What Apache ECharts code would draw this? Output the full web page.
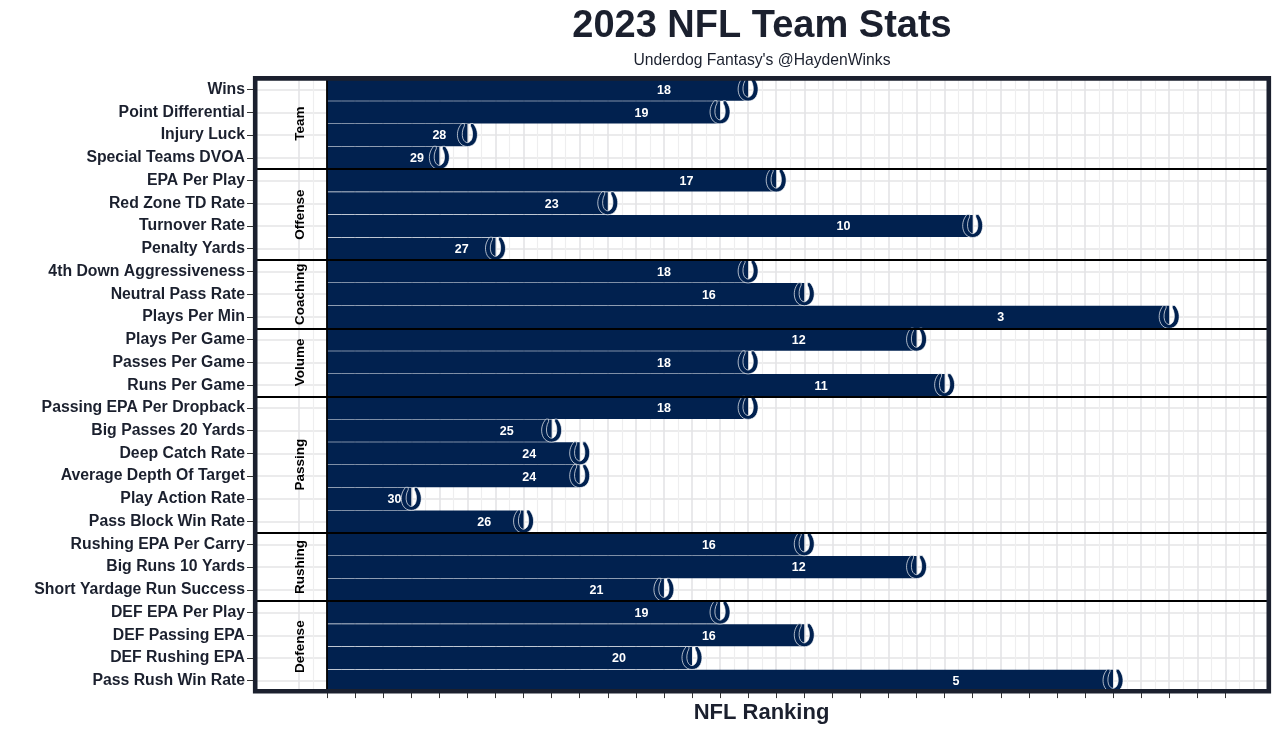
<!DOCTYPE html>
<html><head><meta charset="utf-8">
<style>html,body{margin:0;padding:0;background:#fff}#c{width:1280px;height:732px}</style>
<script src="https://cdn.jsdelivr.net/npm/echarts@6/dist/echarts.min.js"></script>
</head><body><div id="c"></div>
<script>
const categories = ["Wins","Point Differential","Injury Luck","Special Teams DVOA","EPA Per Play","Red Zone TD Rate","Turnover Rate","Penalty Yards","4th Down Aggressiveness","Neutral Pass Rate","Plays Per Min","Plays Per Game","Passes Per Game","Runs Per Game","Passing EPA Per Dropback","Big Passes 20 Yards","Deep Catch Rate","Average Depth Of Target","Play Action Rate","Pass Block Win Rate","Rushing EPA Per Carry","Big Runs 10 Yards","Short Yardage Run Success","DEF EPA Per Play","DEF Passing EPA","DEF Rushing EPA","Pass Rush Win Rate"];
const ranks = [18,19,28,29,17,23,10,27,18,16,3,12,18,11,18,25,24,24,30,26,16,12,21,19,16,20,5];
const groups = ["Team","Offense","Coaching","Volume","Passing","Rushing","Defense"];
const groupSizes = [4,4,3,3,6,3,4];

const NAVY = '#01214f', DARK = '#1b202e';
const SHOE = 'path://M24 3 L36 3 L36 13 C26 28 24 50 29 64 C33 76 43 82 50 82 C57 82 67 76 71 64 C76 50 74 28 64 13 L64 3 L76 3 L82 10 C98 30 100 58 88 78 C80 92 64 98 50 98 C36 98 20 92 12 78 C0 58 2 30 18 10 Z';
const barLen = ranks.map(r => 33 - r);
const tickVals = []; for (let i = 0; i <= 32; i++) tickVals.push(i);

let acc = 0; const dividers = [], groupMid = [];
groupSizes.forEach((n, i) => {
  groupMid.push([-0.96, acc + n / 2, groups[i]]);
  acc += n;
  if (i < groupSizes.length - 1) dividers.push(acc);
});

const FONT = '"Liberation Sans", Arial, sans-serif';
const MAX = 33.52, PANELMIN = -2.565;
const chart = echarts.init(document.getElementById('c'), null, {renderer: 'canvas'});
chart.setOption({
  animation: false,
  backgroundColor: '#fff',
  textStyle: {fontFamily: FONT},
  title: [
    {text: '2023 NFL Team Stats', left: 757, top: 3, textAlign: 'center',
     textStyle: {fontFamily: FONT, fontWeight: 'bold', fontSize: 38, color: DARK}},
    {text: "Underdog Fantasy's @HaydenWinks", left: 757, top: 48, textAlign: 'center',
     textStyle: {fontFamily: FONT, fontWeight: 'normal', fontSize: 15.7, color: DARK}}
  ],
  grid: [
    {left: 299, width: 969, top: 78.2, height: 613.9, outerBoundsMode: 'none'},
    {left: 255, width: 1013, top: 78.2, height: 613.9, outerBoundsMode: 'none'}
  ],
  xAxis: [
    {gridIndex: 0, type: 'value', min: -1, max: MAX, interval: 1,
     axisLine: {show: false, onZero: false}, axisTick: {show: false}, axisLabel: {show: false},
     splitLine: {show: true, lineStyle: {color: '#e4e4e6', width: 1.6}},
     minorTick: {show: false, splitNumber: 2},
     minorSplitLine: {show: true, lineStyle: {color: '#eeeeef', width: 1.2}}},
    {gridIndex: 1, type: 'value', min: PANELMIN, max: MAX,
     axisLine: {show: false, onZero: false}, axisTick: {show: false}, axisLabel: {show: false}, splitLine: {show: false},
     name: 'NFL Ranking', nameLocation: 'middle', nameGap: 10,
     nameTextStyle: {fontFamily: FONT, fontWeight: 'bold', fontSize: 22, color: DARK}},
    {gridIndex: 0, type: 'value', min: -1, max: MAX, position: 'bottom',
     axisLine: {show: false, onZero: false}, axisLabel: {show: false}, splitLine: {show: false},
     axisTick: {show: true, customValues: tickVals, length: 6, lineStyle: {color: '#333', width: 1}}}
  ],
  yAxis: [
    {gridIndex: 0, type: 'category', data: categories, inverse: true,
     axisLine: {show: false, onZero: false}, axisTick: {show: false}, axisLabel: {show: false}, splitLine: {show: false}},
    {gridIndex: 1, type: 'category', data: categories, inverse: true,
     axisLine: {show: false, onZero: false},
     axisTick: {show: true, alignWithLabel: true, length: 8, lineStyle: {color: '#333', width: 1}},
     axisLabel: {show: true, margin: 10, padding: [4, 0, 0, 0], fontFamily: FONT, fontWeight: 'bold', fontSize: 15.8, color: DARK, interval: 0},
     splitLine: {show: true, alignWithLabel: true, interval: 0, lineStyle: {color: '#e4e4e6', width: 1.6}}},
    {gridIndex: 1, type: 'value', min: 0, max: 27, inverse: true, position: 'right',
     axisLine: {show: false, onZero: false}, axisTick: {show: false}, axisLabel: {show: false}, splitLine: {show: false}}
  ],
  series: [
    {type: 'bar', xAxisIndex: 1, yAxisIndex: 1, data: categories.map(() => 0), barWidth: 1,
     itemStyle: {opacity: 0}, silent: true},
    {type: 'bar', xAxisIndex: 0, yAxisIndex: 0, data: barLen, barWidth: 22.2,
     itemStyle: {color: NAVY}, z: 2, silent: true},
    {type: 'scatter', xAxisIndex: 0, yAxisIndex: 0, z: 3, silent: true,
     data: barLen.map((v, i) => [v, i]), symbol: SHOE, symbolSize: [20, 23],
     itemStyle: {color: NAVY, borderColor: 'rgba(255,255,255,0.85)', borderWidth: 0.8, opacity: 1}},
    {type: 'scatter', xAxisIndex: 0, yAxisIndex: 0, z: 4, silent: true,
     data: barLen.map((v, i) => [v * 0.8, i, ranks[i]]), symbolSize: 0, itemStyle: {opacity: 1},
     label: {show: true, position: 'inside', offset: [0, 1], formatter: p => p.data[2], color: '#fff',
             fontFamily: FONT, fontWeight: 'bold', fontSize: 12.5}},
    {type: 'scatter', xAxisIndex: 1, yAxisIndex: 2, z: 6, silent: true,
     data: groupMid, symbolSize: 0, itemStyle: {opacity: 1},
     label: {show: true, position: 'inside', rotate: 90, formatter: p => p.data[2], color: '#000',
             fontFamily: FONT, fontWeight: 'bold', fontSize: 13.5},
     markLine: {silent: true, symbol: 'none', label: {show: false},
       lineStyle: {color: '#000', width: 1.8, type: 'solid'}, z: 6,
       data: dividers.map(d => ({yAxis: d})).concat([{xAxis: 0}])}}
  ],
  graphic: [{type: 'rect', z: 100, silent: true, shape: {x: 255.2, y: 78.4, width: 1013.6, height: 612.8},
    style: {fill: 'none', stroke: DARK, lineWidth: 4.6}}]
});
</script></body></html>
